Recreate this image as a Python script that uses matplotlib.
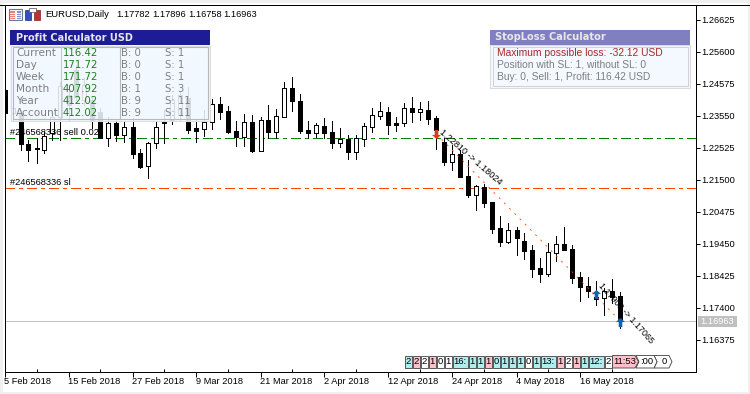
import matplotlib
matplotlib.use("Agg")
import matplotlib.pyplot as plt
from matplotlib.patches import Rectangle, Polygon
from matplotlib.path import Path

opens = [1.24367,1.23631,1.23631,1.22638,1.22510,1.22445,1.22990,1.23502,1.24207,1.25008,
         1.24047,1.24047,1.23663,1.22830,1.23310,1.22926,1.23182,1.22349,1.21933,1.22670,
         1.23342,1.23406,1.23567,1.24111,1.23150,1.23118,1.23342,1.23919,1.23695,1.23054,
         1.22862,1.23342,1.22413,1.23406,1.23022,1.23502,1.24431,1.24015,1.23086,1.22990,
         1.23214,1.23022,1.22670,1.22798,1.22381,1.22798,1.23182,1.23535,1.23663,1.23310,
         1.23310,1.23791,1.23663,1.23727,1.23470,1.22702,1.22061,1.22317,1.21613,1.21004,
         1.21260,1.20780,1.19947,1.19499,1.19883,1.19531,1.19242,1.18666,1.18474,1.19146,
         1.19435,1.19275,1.18378,1.18089,1.17737,1.17705,1.17929,1.17782]
highs = [1.24431,1.23919,1.23727,1.22766,1.22830,1.23022,1.23567,1.24624,1.24527,1.25168,
         1.24752,1.24175,1.23791,1.23502,1.23406,1.23342,1.23470,1.22478,1.22702,1.23342,
         1.23727,1.24207,1.24303,1.24463,1.23406,1.23727,1.24079,1.24143,1.23855,1.23374,
         1.23599,1.23567,1.23502,1.23887,1.23759,1.24624,1.24784,1.24239,1.23374,1.23310,
         1.23470,1.23374,1.23150,1.22926,1.22926,1.23310,1.23791,1.23983,1.23823,1.23502,
         1.23951,1.24143,1.23983,1.24015,1.23535,1.22830,1.22606,1.22445,1.22125,1.21324,
         1.21356,1.20780,1.20332,1.20107,1.19979,1.19787,1.19403,1.18986,1.19467,1.19691,
         1.19979,1.19403,1.18538,1.18378,1.18250,1.18025,1.18314,1.17896]
lows = [1.23567,1.23406,1.22445,1.22093,1.22029,1.22349,1.22766,1.22766,1.23406,1.24047,
        1.23887,1.23150,1.22830,1.22574,1.22734,1.22702,1.22189,1.21869,1.21549,1.22510,
        1.22670,1.23278,1.23406,1.22990,1.22702,1.22894,1.23118,1.23438,1.22990,1.22574,
        1.22574,1.22381,1.22413,1.22830,1.22830,1.23502,1.23695,1.22990,1.22830,1.22862,
        1.22830,1.22510,1.22542,1.22157,1.22157,1.22574,1.23022,1.23438,1.22958,1.23054,
        1.23214,1.23342,1.23406,1.23278,1.22478,1.21965,1.21805,1.21581,1.20940,1.20524,
        1.20620,1.19787,1.19371,1.19467,1.19082,1.18954,1.18378,1.18218,1.18410,1.18890,
        1.19242,1.18186,1.17609,1.17737,1.17481,1.17161,1.17545,1.16758]
closes = [1.23631,1.23791,1.22638,1.22445,1.22478,1.22894,1.23502,1.24495,1.23887,1.24143,
          1.24527,1.23406,1.22830,1.23310,1.22926,1.23182,1.22317,1.21901,1.22670,1.23182,
          1.23310,1.24047,1.24207,1.23086,1.23054,1.23342,1.23919,1.23663,1.23022,1.22862,
          1.23342,1.22413,1.23406,1.23022,1.23535,1.24431,1.24015,1.23054,1.22990,1.23246,
          1.22990,1.22670,1.22798,1.22381,1.22830,1.23214,1.23567,1.23695,1.23246,1.23246,
          1.23791,1.23663,1.23759,1.23438,1.23086,1.22061,1.22317,1.21581,1.21004,1.21292,
          1.20748,1.19915,1.19499,1.19883,1.19627,1.19210,1.18634,1.18474,1.19178,1.19435,
          1.19242,1.18346,1.18057,1.17929,1.17673,1.17929,1.17737,1.16963]

price_ticks = [1.26625,1.25600,1.24575,1.23550,1.22525,1.21500,1.20475,1.19450,1.18425,1.17400,1.16375]
date_positions = [0,8,16,24,32,40,48,56,64,72]
date_labels = ["5 Feb 2018","15 Feb 2018","27 Feb 2018","9 Mar 2018","21 Mar 2018",
               "2 Apr 2018","12 Apr 2018","24 Apr 2018","4 May 2018","16 May 2018"]
take_profit = 1.22820
stop_loss = 1.21230
last_price = 1.16963
trade_bars = [54, 77]
trade_prices = [1.22958, 1.16963]
buy_bars = [74, 77]
buy_prices = [1.17833, 1.16930]

profit_rows = ["Current","Day","Week","Month","Year","Account"]
profit_vals = ["116.42","171.72","171.72","407.92","412.02","412.02"]
profit_b = ["B: 0","B: 0","B: 0","B: 1","B: 9","B: 9"]
profit_s = ["S: 1","S: 1","S: 1","S: 3","S: 11","S: 11"]
sl_rows = ["Maximum possible loss: -32.12 USD","Position with SL: 1, without SL: 0","Buy: 0, Sell: 1, Profit: 116.42 USD"]
box_text = ["2","2","2","1","0","1","16:","1","1","1","0","1","1","1","0","1","13:","1","2","1","1","12:","2"]
box_kind = ["t","p","w","p","w","w","t","t","t","p","t","t","t","t","w","t","t","p","w","p","t","t","w"]
header_values = ["1.17782","1.17896","1.16758","1.16963"]

W, H = 750, 394
plt.rcParams["font.family"] = ["Liberation Sans", "DejaVu Sans"]
fig = plt.figure(figsize=(W/100, H/100), dpi=100, facecolor="#f0f0f0")

L, R, T, B = 4.5, 695.5, 4.5, 371.5
ax = fig.add_axes([L/W, 1-B/H, (R-L)/W, (B-T)/H], facecolor="white", zorder=2)
ov = fig.add_axes([0, 0, 1, 1], zorder=3, facecolor="none")
ov.set_xlim(0, W); ov.set_ylim(H, 0); ov.axis("off")
bg = fig.add_axes([0, 0, 1, 1], zorder=0, facecolor="none")
bg.set_xlim(0, W); bg.set_ylim(H, 0); bg.axis("off")
bg.add_patch(Rectangle((3, 3), 745, 388.5, fc="white", ec="none"))

LW = 0.72
ax.set_xlim(0, (R-L)/8)
ax.set_ylim(1.2725-B*0.0003203, 1.2725-T*0.0003203)

# levels
ax.axhline(last_price, color="#c0c0c0", lw=LW, zorder=1, antialiased=False)
dd = (0, (10, 5, 3, 5))
ax.axhline(take_profit, color="#008000", lw=LW, ls=dd, zorder=1, antialiased=False)
ax.axhline(stop_loss, color="#ff4500", lw=LW, ls=dd, zorder=1, antialiased=False)

# candles
xs = list(range(len(opens)))
ax.vlines(xs, lows, highs, color="black", lw=LW, zorder=3, antialiased=False)
bottoms = [min(o, c) for o, c in zip(opens, closes)]
heights = [abs(o-c) for o, c in zip(opens, closes)]
faces = ["white" if c > o else "black" for o, c in zip(opens, closes)]
ax.bar(xs, heights, bottom=bottoms, width=0.5, color=faces, edgecolor="black",
       linewidth=LW, zorder=4, antialiased=False)

# trade line and arrows
ax.plot(trade_bars, trade_prices, color="#ff4500", lw=0.6, ls=(0, (2.4, 6.5)),
        dash_capstyle="butt", zorder=5)
up_arrow = Path([(0,1),(1,0.1),(0.4,0.1),(0.4,-1),(-0.4,-1),(-0.4,0.1),(-1,0.1),(0,1)], closed=True)
down_arrow = Path([(0,-1),(1,-0.1),(0.4,-0.1),(0.4,1),(-0.4,1),(-0.4,-0.1),(-1,-0.1),(0,-1)], closed=True)
ax.plot(trade_bars[:1], trade_prices[:1], marker=down_arrow, ms=6.5, color="#e03c14", mew=0, ls="none", zorder=6)
ax.plot(buy_bars, buy_prices, marker=up_arrow, ms=6.5, color="#0a64b4", mew=0, ls="none", zorder=6)

# axes
for s in ax.spines.values():
    s.set_linewidth(LW); s.set_color("black"); s.set_antialiased(False)
ax.yaxis.tick_right()
ax.set_yticks(price_ticks)
ax.set_yticklabels([f"{p:.5f}" for p in price_ticks])
ax.tick_params(axis="y", length=3.2, width=LW, labelsize=6.7, pad=1.2)
ax.set_xticks(date_positions)
ax.set_xticklabels(date_labels, ha="left")
ax.tick_params(axis="x", length=3.6, width=LW, labelsize=6.7, pad=0.6)
ax.set_xticks([p+4 for p in date_positions], minor=True)
ax.tick_params(axis="x", which="minor", direction="in", length=2, width=LW)

# outer top line, last-price tag
ov.plot([0, 749], [4.5, 4.5], color="black", lw=LW, antialiased=False)
ov.add_patch(Rectangle((698, 316), 39, 11, fc="#c0c0c0", ec="none"))
ov.text(717.5, 321.5, f"{last_price:.5f}", color="white", fontsize=6.7, ha="center", va="center")

# icons
ov.add_patch(Rectangle((9, 9), 13, 11, fc="#f4f4ff", ec="#6a7a9a", lw=0.8))
ov.add_patch(Rectangle((10, 11), 5, 8, fc="#f08070", ec="none"))
ov.add_patch(Rectangle((17, 11), 4, 8, fc="#8090d8", ec="none"))
for y in (13, 15, 17):
    ov.plot([10, 21], [y, y], color="white", lw=0.6)
ov.add_patch(Rectangle((25, 10), 6, 10, fc="#3050c8", ec="#202880", lw=0.5))
ov.add_patch(Rectangle((34, 10), 6, 10, fc="#c03030", ec="#802020", lw=0.5))
ov.add_patch(Rectangle((29, 8), 7, 4, fc="white", ec="#505050", lw=0.5))

ov.text(45, 14.5, "EURUSD,Daily", fontsize=6.8, va="center", ha="left", color="black")
for i, v in enumerate(header_values):
    ov.text(116.5 + 35.7*i, 14.5, v, fontsize=6.7, va="center", ha="left", color="black")

# order labels
ov.text(10, 132.8, "#246568336 sell 0.02", fontsize=6.7, va="center", color="black")
ov.text(10, 182.8, "#246568336 sl", fontsize=6.7, va="center", color="black")
ov.text(441, 131, "1.22810 -> 1.18024", fontsize=6.6, rotation=-41, rotation_mode="anchor", va="center", color="black")
ov.text(600, 284, "1.17902 -> 1.17065", fontsize=6.4, rotation=-48, rotation_mode="anchor", va="center", color="black")

# profit panel
GR = "#7f7f7f"
ov.add_patch(Rectangle((10, 45), 200, 76, fc="#f0f8ff", ec="none", alpha=0.88))
ov.add_patch(Rectangle((10.5, 45.5), 199, 75, fc="none", ec="#dcdcdc", lw=0.8))
ov.add_patch(Rectangle((12.5, 46.5), 195, 72.5, fc="none", ec="#b8b8b8", lw=0.8))
ov.plot([60.5, 60.5], [47, 119], color="#c8c8c8", lw=0.8)
ov.plot([119.5, 119.5], [47, 119], color="#b8b8b8", lw=0.8)
ov.add_patch(Rectangle((10, 30), 200, 15, fc="#1c1c96", ec="none"))
ov.text(16, 37.7, "Profit Calculator USD", fontsize=7, family="DejaVu Sans", fontweight="bold", color="#e6e6e6", va="center")
for i in range(len(profit_rows)):
    y = 52.7 + 12*i
    ov.text(16, y, profit_rows[i], fontsize=7.6, color=GR, va="center", family="DejaVu Sans")
    ov.text(63, y, profit_vals[i], fontsize=7.3, color="#1f7f1f", va="center", family="DejaVu Sans")
    ov.text(121, y, profit_b[i], fontsize=7.3, color=GR, va="center", family="DejaVu Sans")
    ov.text(165, y, profit_s[i], fontsize=7.3, color=GR, va="center", family="DejaVu Sans")

# stoploss panel
ov.add_patch(Rectangle((490, 45), 200, 43, fc="#f4f8ff", ec="#dcdcdc", lw=0.8))
ov.add_patch(Rectangle((492.5, 46.5), 195, 39.5, fc="none", ec="#d0d0d8", lw=0.7))
ov.add_patch(Rectangle((490, 30), 200, 15, fc="#8080c0", ec="none"))
ov.text(495, 37, "StopLoss Calculator", fontsize=7.1, family="DejaVu Sans", fontweight="bold", color="#e8e8e8", va="center")
for i, (txt, col) in enumerate(zip(sl_rows, ["#a52a2a", GR, GR])):
    ov.text(497, 52.7 + 12.2*i, txt, fontsize=7.4, color=col, va="center")

# bar-time boxes
COL = {"t": "#afeeee", "p": "#ffc0cb", "w": "#ffffff"}
x0 = 404.5
for txt, kind in zip(box_text, box_kind):
    w = 15 if txt.endswith(":") else 7
    ov.add_patch(Rectangle((x0, 355.5), w, 12.5, fc=COL[kind], ec="#404040", lw=0.6))
    ov.text(x0 + w/2 + 0.3, 361.8, txt, fontsize=6.8, ha="center", va="center", color="black")
    x0 += w + 1
def chevron(xa, xb, fc):
    ov.add_patch(Polygon([(xa, 355.5), (xb-3, 355.5), (xb, 361.7), (xb-3, 368), (xa, 368), (xa+3, 361.7)],
                         closed=True, fc=fc, ec="#404040", lw=0.6))
chevron(654, 672, "white"); ov.text(664, 361.8, "0", fontsize=6.8, ha="center", va="center")
chevron(636, 657, "white"); ov.text(646.5, 361.8, ":00", fontsize=6.8, ha="center", va="center")
ov.add_patch(Polygon([(612.5, 355.5), (635, 355.5), (638.5, 361.7), (635, 368), (612.5, 368)],
                     closed=True, fc="#ffc0cb", ec="#404040", lw=0.6))
ov.text(625, 361.8, "11:53", fontsize=6.8, ha="center", va="center")

fig.savefig("out.png", dpi=100, facecolor=fig.get_facecolor())
